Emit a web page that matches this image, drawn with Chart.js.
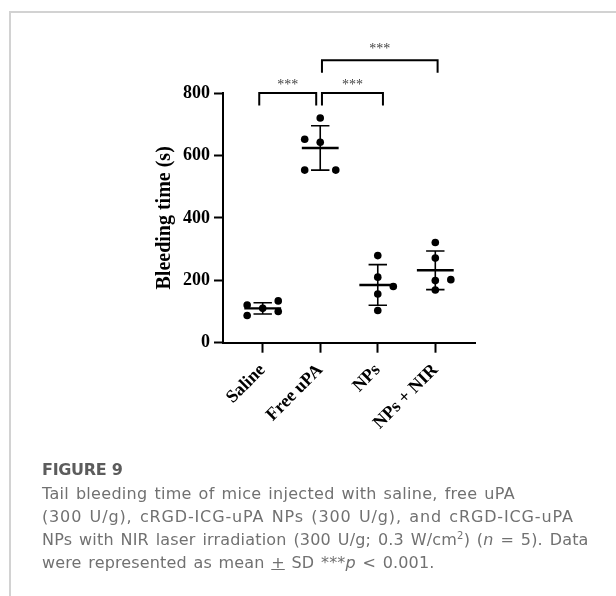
<!DOCTYPE html>
<html>
<head>
<meta charset="utf-8">
<script src="https://cdn.jsdelivr.net/npm/chart.js@4"></script>
<style>
html, body { margin: 0; padding: 0; background: #fff; }
body { width: 616px; height: 596px; position: relative; overflow: hidden; }
.frame { position: absolute; left: 9px; top: 11px; right: 0; bottom: 0;
  border-top: 2px solid #d2d2d2; border-left: 2px solid #d2d2d2; }
#chart { position: absolute; left: 0; top: 0; }
.cap { position: absolute; left: 42px; top: 458.7px; width: 574px;
  font-family: "DejaVu Sans", sans-serif; color: #717171; }
.cap h4 { margin: 0; font-size: 16px; letter-spacing: -0.3px; font-weight: 700; color: #5c5c5c; line-height: 22px; }
.cap p { margin: 1.1px 0 0 0; font-size: 16px; word-spacing: 1.5px; line-height: 23px; white-space: nowrap; }
.cap p span { display: block; }
</style>
</head>
<body>
<div class="frame"></div>
<canvas id="chart" width="616" height="460"></canvas>
<div class="cap">
  <h4>FIGURE 9</h4>
  <p><span style="letter-spacing:0.3px">Tail bleeding time of mice injected with saline, free uPA</span><span style="letter-spacing:0.85px">(300 U/g), cRGD-ICG-uPA NPs (300 U/g), and cRGD-ICG-uPA</span><span style="letter-spacing:0.19px">NPs with NIR laser irradiation (300 U/g; 0.3 W/cm<sup style="font-size:10px;line-height:0">2</sup>) (<i>n</i> = 5). Data</span><span style="letter-spacing:0.14px">were represented as mean <u>+</u> SD ***<i>p</i> &lt; 0.001.</span></p>
</div>
<script>
// groups on the x axis
const groups = ['Saline', 'Free uPA', 'NPs', 'NPs + NIR'];

// individual mice (bleeding time, s) and their horizontal spread within a group
const salineValues = [121, 87, 110, 134, 100];
const salineSpread = [-0.27, -0.27, 0, 0.27, 0.27];
const freeUpaValues = [652, 642, 720, 553, 553];
const freeUpaSpread = [-0.27, 0, 0, -0.27, 0.27];
const npsValues = [279, 210, 180, 156, 103];
const npsSpread = [0, 0, 0.27, 0, 0];
const npsNirValues = [321, 271, 199, 202, 169];
const npsNirSpread = [0, 0, 0, 0.27, 0];

// mean +- SD per group
const groupMeans = [110, 624, 185, 232];
const groupSD = [18, 71, 65, 62];

const yTicks = [0, 200, 400, 600, 800];

// significance brackets
const sigFrom = [-0.06, 1.03, 1.03];
const sigTo = [0.93, 2.09, 3.04];
const sigTop = [800, 800, 905];
const sigDrop = 40;
const sigText = ['***', '***', '***'];
const sigTextY = [835, 835, 950];

const allValues = [salineValues, freeUpaValues, npsValues, npsNirValues];
const allSpread = [salineSpread, freeUpaSpread, npsSpread, npsNirSpread];

const MEAN_HALF = 0.32, CAP_HALF = 0.16;

// points
const dots = [];
allValues.forEach((vals, g) => {
    vals.forEach((v, k) => dots.push({ x: g + allSpread[g][k], y: v }));
});

// mean lines, sd lines, caps (null breaks between pieces)
const meanLines = [], sdLines = [];
groupMeans.forEach((m, g) => {
    meanLines.push({ x: g - MEAN_HALF, y: m }, { x: g + MEAN_HALF, y: m }, { x: g, y: null });
    const lo = m - groupSD[g], hi = m + groupSD[g];
    sdLines.push({ x: g, y: lo }, { x: g, y: hi }, { x: g, y: null });
    sdLines.push({ x: g - CAP_HALF, y: hi }, { x: g + CAP_HALF, y: hi }, { x: g, y: null });
    sdLines.push({ x: g - CAP_HALF, y: lo }, { x: g + CAP_HALF, y: lo }, { x: g, y: null });
});

const brackets = [];
sigFrom.forEach((a, i) => {
    const b = sigTo[i], t = sigTop[i];
    brackets.push({ x: a, y: t - sigDrop }, { x: a, y: t }, { x: b, y: t }, { x: b, y: t - sigDrop }, { x: a, y: null });
});

const starPlugin = {
    id: 'stars',
    afterDatasetsDraw(chart) {
        const ctx = chart.ctx, xs = chart.scales.x, ys = chart.scales.y;
        ctx.save();
        ctx.font = '14px "Liberation Serif"';
        ctx.fillStyle = '#444';
        ctx.textAlign = 'center';
        ctx.textBaseline = 'alphabetic';
        sigText.forEach((t, i) => {
            const x = xs.getPixelForValue((sigFrom[i] + sigTo[i]) / 2);
            const y = ys.getPixelForValue(sigTextY[i]);
            ctx.fillText(t, x, y + 7);
        });
        ctx.restore();
    }
};

const lineStyle = (data, w) => ({
    type: 'line', data: data, borderColor: '#000', borderWidth: w,
    pointRadius: 0, spanGaps: false, clip: false, tension: 0
});

new Chart(document.getElementById('chart'), {
    type: 'scatter',
    data: {
        datasets: [
            lineStyle(brackets, 2),
            lineStyle(sdLines, 1.6),
            lineStyle(meanLines, 2.4),
            { type: 'scatter', data: dots, backgroundColor: '#000', borderWidth: 0, pointRadius: 3.8 }
        ]
    },
    plugins: [starPlugin],
    options: {
        responsive: false,
        animation: false,
        layout: { padding: { left: 153, top: 93, right: 141, bottom: 0 } },
        plugins: { legend: { display: false }, tooltip: { enabled: false } },
        scales: {
            x: {
                type: 'linear', min: -0.69, max: 3.69,
                afterBuildTicks: s => { s.ticks = groups.map((g, i) => ({ value: i })); },
                afterFit: s => { s.height = 117.3; },
                grid: { drawOnChartArea: false, drawTicks: true, tickLength: 10, tickWidth: 2, tickColor: '#000' },
                border: { display: true, color: '#000', width: 2 },
                ticks: {
                    autoSkip: false, minRotation: 45, maxRotation: 45, padding: 7,
                    color: '#000', font: { family: 'Liberation Serif', weight: 'bold', size: 18 },
                    callback: v => groups[v]
                }
            },
            y: {
                min: 0, max: 800,
                afterBuildTicks: s => { s.ticks = yTicks.map(v => ({ value: v })); },
                afterFit: s => { s.width = 70; },
                grid: { drawOnChartArea: false, drawTicks: true, tickLength: 9, tickWidth: 2, tickColor: '#000' },
                border: { display: true, color: '#000', width: 2 },
                ticks: { padding: 4, color: '#000', font: { family: 'Liberation Serif', weight: 'bold', size: 18 } },
                title: {
                    display: true, text: 'Bleeding time (s)', color: '#000',
                    padding: { top: 0, bottom: 0 },
                    font: { family: 'Liberation Serif', weight: 'bold', size: 20 }
                }
            }
        }
    }
});
</script>
</body>
</html>
